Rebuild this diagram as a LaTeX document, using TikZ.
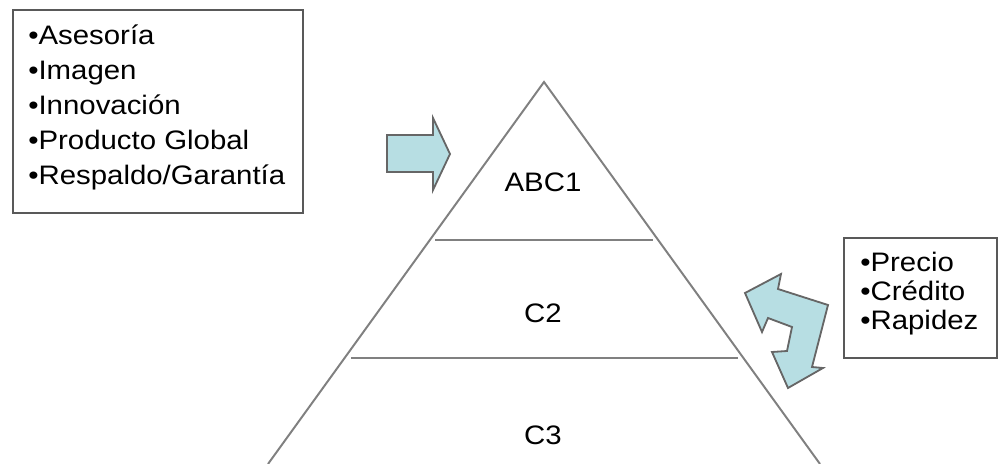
\documentclass[tikz,border=0pt]{standalone}
\usepackage{fontspec}
\setmainfont[FakeStretch=1.1]{Liberation Sans}
\begin{document}
\begin{tikzpicture}[x=0.025cm,y=-0.025cm,
  txt/.style={inner sep=0pt,anchor=base west,font=\fontsize{19}{22}\selectfont},
  lbl/.style={inner sep=0pt,font=\fontsize{19}{22}\selectfont},
  boxline/.style={draw=black!65,line width=1.3pt},
  triline/.style={draw=black!50,line width=1.4pt},
  arrowshape/.style={fill=arrowfill,draw=black!60,line width=1.3pt,line join=miter}]
\definecolor{arrowfill}{RGB}{183,222,227}
\useasboundingbox (0,0) rectangle (999,464);
% triangle
\coordinate (apex) at (544,82);
\coordinate (bl) at (268,464);
\coordinate (br) at (820,464);
\draw[triline] (bl) -- (apex) -- (br);
\draw[triline] (435,240) -- (653,240);
\draw[triline] (351,358) -- (738,358);
\node[lbl] (abc) at (543,182) {ABC1};
\node[lbl] (c2) at (543,313) {C2};
\node[lbl] (c3) at (543,435) {C3};
% left box
\node[boxline,minimum width=7.25cm,minimum height=5.075cm,inner sep=0pt] (lbox) at (158,111.5) {};
\node[txt] (l1) at (28,45) {•Asesoría};
\node[txt] (l2) at (28,80) {•Imagen};
\node[txt] (l3) at (28,115) {•Innovación};
\node[txt] (l4) at (28,150) {•Producto Global};
\node[txt] (l5) at (28,185) {•Respaldo/Garantía};
% right box
\node[boxline,minimum width=3.825cm,minimum height=3cm,inner sep=0pt] (rbox) at (920.5,298) {};
\node[txt] (r1) at (860,272) {•Precio};
\node[txt] (r2) at (860,301) {•Crédito};
\node[txt] (r3) at (860,330) {•Rapidez};
% right arrow
\draw[arrowshape] (387,135) -- (433,135) -- (433,118) -- (450,154) -- (433,190) -- (433,172) -- (387,172) -- cycle;
% bent arrow
\draw[arrowshape] (745,293) -- (781,274) -- (778,289) -- (828,305) -- (812,367) -- (823,368) -- (788,388) -- (772,352) -- (787,351) -- (792,327) -- (768,318) -- (762,332) -- cycle;
\end{tikzpicture}
\end{document}
